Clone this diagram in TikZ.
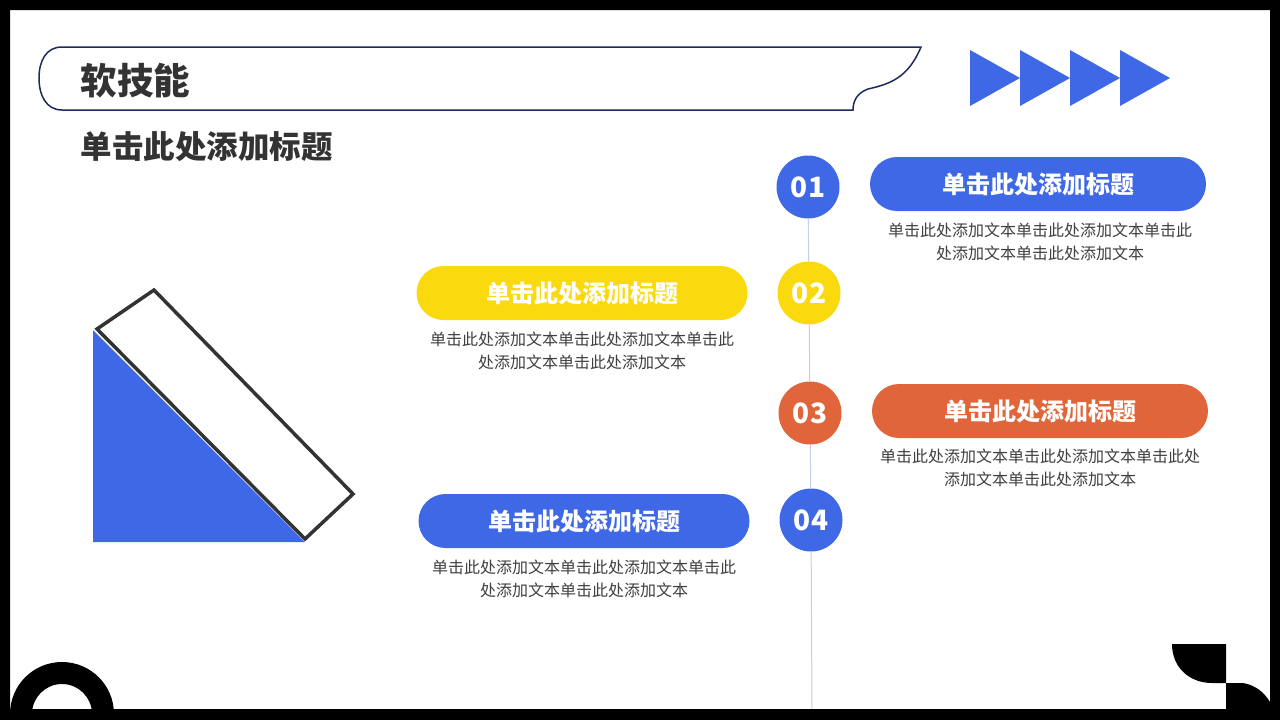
\documentclass[tikz,border=0pt]{standalone}
\usepackage{fontspec}
\setmainfont{Noto Sans CJK SC}
\definecolor{mainblue}{HTML}{3F68E6}
\definecolor{mainyellow}{HTML}{FAD90F}
\definecolor{mainorange}{HTML}{E1653A}
\definecolor{navyline}{HTML}{1F2A5C}
\definecolor{textgray}{HTML}{404040}
\definecolor{linegray}{HTML}{C6D0E4}
\definecolor{darkline}{HTML}{333333}
\begin{document}
\begin{tikzpicture}[x=1pt,y=-1pt,
	numdot/.style={circle,minimum size=63pt,inner sep=0,text=white,font=\fontsize{28}{28}\selectfont\bfseries},
	pill/.style={rounded corners=27pt,minimum width=336pt,minimum height=54pt,inner sep=0,text=white,font=\fontsize{24}{24}\selectfont\bfseries},
	body/.style={align=center,text=textgray,font=\fontsize{16}{23}\selectfont}]
	\useasboundingbox (0,0) rectangle (1280,720);
	\fill[white] (0,0) rectangle (1280,720);
	% corner pieces
	\fill[black,even odd rule] (62,714) circle (52) (62,714) circle (30);
	\fill[black] (1226,644) -- (1172,644) .. controls (1172,668) and (1190,683) .. (1212,683) -- (1226,683) -- cycle;
	\fill[black] (1226,683) -- (1243,683) .. controls (1255,685) and (1264,692) .. (1270,702) -- (1270,709) -- (1226,709) -- cycle;
	% timeline
	\coordinate (lineend) at (812,712);
	\node[numdot,fill=mainblue] (n1) at (808,187) {01};
	\node[numdot,fill=mainyellow] (n2) at (809,293) {02};
	\node[numdot,fill=mainorange] (n3) at (810,413) {03};
	\node[numdot,fill=mainblue] (n4) at (811,520) {04};
	\draw[linegray,line width=1pt] (n1) -- (n2); \draw[linegray,line width=1pt] (n2) -- (n3);
	\draw[linegray,line width=1pt] (n3) -- (n4); \draw[linegray,line width=1pt] (n4) -- (lineend);
	\fill[black,even odd rule] (0,0) rectangle (1280,720) (10,10) rectangle (1270,709);
	% header
	\draw[navyline,line width=1.5pt] (62,47) -- (921,47) .. controls (908,78) and (890,84) .. (868,89) .. controls (857,93) and (853,101) .. (853,110) -- (62,110) .. controls (46,110) and (39,95) .. (39,78) .. controls (39,61) and (46,47) .. (62,47) -- cycle;
	\node[anchor=west,text=darkline,font=\fontsize{36.5}{36}\selectfont\bfseries] (title) at (77,81) {软技能};
	\node[anchor=west,text=darkline,font=\fontsize{31.5}{31}\selectfont\bfseries] (subhead) at (77,147) {单击此处添加标题};
	\foreach \i in {0,...,3}
		\fill[mainblue] (970+50*\i,50) -- (1020+50*\i,78) -- (970+50*\i,106) -- cycle;
	% left figure
	\fill[mainblue] (93,330) -- (93,542) -- (305,542) -- cycle;
	\draw[darkline,line width=3.5pt,fill=white] (97,329) -- (154,290) -- (353,494) -- (305,539) -- cycle;
	% titles and texts
	\node[pill,fill=mainblue] (t1) at (1038,184) {单击此处添加标题};
	\node[body] (b1) at (1040,242) {单击此处添加文本单击此处添加文本单击此\\处添加文本单击此处添加文本};
	\node[pill,fill=mainyellow,minimum width=331pt] (t2) at (582,293) {单击此处添加标题};
	\node[body] (b2) at (582,351) {单击此处添加文本单击此处添加文本单击此\\处添加文本单击此处添加文本};
	\node[pill,fill=mainorange] (t3) at (1040,411) {单击此处添加标题};
	\node[body] (b3) at (1040,468) {单击此处添加文本单击此处添加文本单击此处\\添加文本单击此处添加文本};
	\node[pill,fill=mainblue,minimum width=331pt] (t4) at (584,521) {单击此处添加标题};
	\node[body] (b4) at (584,579) {单击此处添加文本单击此处添加文本单击此\\处添加文本单击此处添加文本};
\end{tikzpicture}
\end{document}
